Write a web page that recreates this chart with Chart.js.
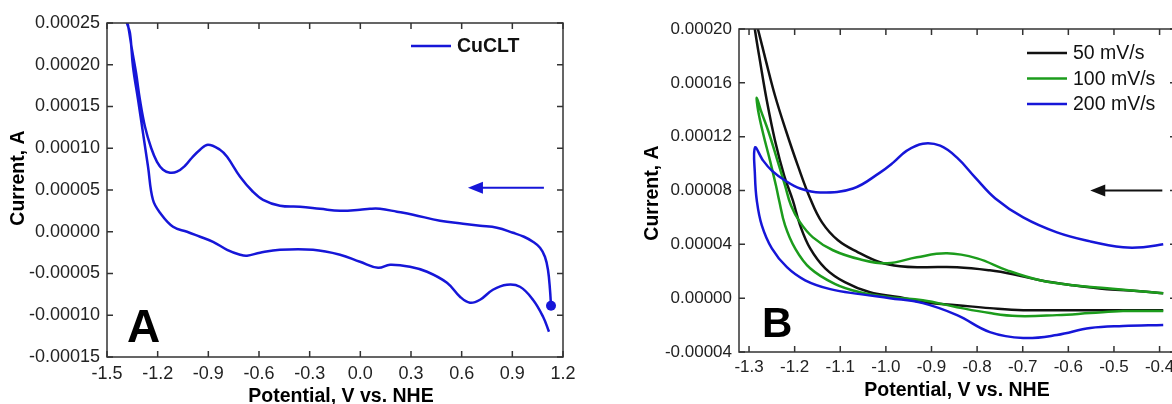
<!DOCTYPE html>
<html>
<head>
<meta charset="utf-8">
<script src="https://cdn.jsdelivr.net/npm/chart.js@4.4.1/dist/chart.umd.min.js"></script>
<style>
  html, body { margin: 0; padding: 0; background: #fff; overflow: hidden; width: 1172px; height: 404px; }
  canvas { position: absolute; top: 0; }
  #chartA { left: 0; }
  #chartB { left: 620px; }
</style>
</head>
<body>
<canvas id="chartA" width="600" height="404"></canvas>
<canvas id="chartB" width="600" height="404"></canvas>
<script>
// ---- panel A: CuCLT, potential (V vs NHE) and current (A)
const cuV = [1.129, 1.123, 1.111, 1.093, 1.064, 1.022, 0.969, 0.904, 0.809, 0.709, 0.608, 0.472, 0.312, 0.217, 0.116, 0.057, -0.002,
  -0.120, -0.239, -0.357, -0.476, -0.576, -0.636, -0.712, -0.789, -0.831, -0.902, -0.949, -0.997, -1.038, -1.086, -1.127, -1.168,
  -1.204, -1.239, -1.275, -1.305, -1.328, -1.352, -1.376, -1.382,
  -1.364, -1.346, -1.316, -1.287, -1.257, -1.228, -1.186, -1.109, -1.026, -0.949, -0.872, -0.789, -0.712, -0.671, -0.594,
  -0.476, -0.280, -0.120, -0.002, 0.105, 0.176, 0.294, 0.395, 0.513, 0.590, 0.649, 0.709, 0.785, 0.868, 0.945, 1.022, 1.082, 1.117];
const cuI = [-8.86e-5, -6.95e-5, -4.55e-5, -2.99e-5, -1.92e-5, -1.2e-5, -6.0e-6, -1.2e-6, 4.8e-6, 7.2e-6, 9.6e-6, 1.32e-5, 2.04e-5, 2.4e-5, 2.75e-5, 2.75e-5, 2.63e-5,
  2.51e-5, 2.75e-5, 2.99e-5, 3.11e-5, 3.83e-5, 4.79e-5, 6.59e-5, 8.98e-5, 9.82e-5, 1.042e-4, 9.82e-5, 8.86e-5, 7.9e-5, 7.19e-5, 7.07e-5, 7.43e-5,
  8.38e-5, 1.006e-4, 1.257e-4, 1.581e-4, 1.904e-4, 2.18e-4, 2.479e-4, 2.5e-4,
  2.38e-4, 1.976e-4, 1.581e-4, 1.186e-4, 7.78e-5, 3.83e-5, 2.28e-5, 6.0e-6, 0, -6.0e-6, -1.2e-5, -2.16e-5, -2.75e-5, -2.87e-5, -2.51e-5,
  -2.16e-5, -2.16e-5, -2.75e-5, -3.59e-5, -4.31e-5, -3.95e-5, -4.19e-5, -4.79e-5, -6.11e-5, -7.78e-5, -8.5e-5, -8.14e-5, -6.95e-5, -6.35e-5, -6.59e-5, -8.14e-5, -1.018e-4, -1.198e-4];
const cuStartV = [1.129];
const cuStartI = [-8.86e-5];
const arrowA = { fromV: 1.087, toV: 0.637, atI: 5.27e-5 };
const xTicksA = [-1.5, -1.2, -0.9, -0.6, -0.3, 0, 0.3, 0.6, 0.9, 1.2];
const yTicksA = [-0.00015, -0.0001, -0.00005, 0, 0.00005, 0.0001, 0.00015, 0.0002, 0.00025];

// ---- panel B: scan rates
const rateLabels = ['50 mV/s', '100 mV/s', '200 mV/s'];
const blackV = [-0.392, -0.443, -0.515, -0.590, -0.662, -0.721, -0.772, -0.844, -0.919, -0.969, -1.013, -1.061, -1.105, -1.140,
  -1.166, -1.193, -1.219, -1.243, -1.263, -1.280, -1.294,
  -1.287, -1.276, -1.261, -1.243, -1.223, -1.204, -1.188, -1.166, -1.133, -1.090, -1.035, -0.969, -0.919, -0.844, -0.772,
  -0.699, -0.552, -0.392];
const blackI = [3.7e-6, 5.2e-6, 6.7e-6, 9.6e-6, 1.33e-5, 1.78e-5, 2.07e-5, 2.3e-5, 2.3e-5, 2.37e-5, 2.67e-5, 3.41e-5, 4.3e-5, 5.63e-5,
  7.41e-5, 9.85e-5, 1.244e-4, 1.504e-4, 1.763e-4, 1.993e-4, 2.17e-4,
  1.993e-4, 1.763e-4, 1.467e-4, 1.17e-4, 9.11e-5, 7.26e-5, 5.41e-5, 3.7e-5, 2.22e-5, 1.19e-5, 4.4e-6, 7e-7, -3.0e-6, -5.2e-6, -7.4e-6,
  -8.9e-6, -8.9e-6, -8.9e-6];
const greenV = [-0.392, -0.443, -0.515, -0.590, -0.662, -0.734, -0.800, -0.866, -0.932, -0.997, -1.057, -1.116, -1.160, -1.188,
  -1.208, -1.221, -1.239, -1.258, -1.274, -1.283,
  -1.280, -1.269, -1.254, -1.241, -1.234, -1.221, -1.199, -1.166, -1.111, -1.057, -0.991, -0.919, -0.844, -0.772, -0.712,
  -0.625, -0.552, -0.480, -0.392];
const greenI = [3.7e-6, 5.2e-6, 7.4e-6, 9.6e-6, 1.33e-5, 2.07e-5, 2.96e-5, 3.33e-5, 3.04e-5, 2.59e-5, 2.89e-5, 3.56e-5, 4.52e-5, 5.63e-5,
  6.89e-5, 8.37e-5, 1.037e-4, 1.244e-4, 1.393e-4, 1.489e-4,
  1.393e-4, 1.222e-4, 1.022e-4, 8.37e-5, 7.26e-5, 5.41e-5, 3.7e-5, 2.22e-5, 1.04e-5, 4.4e-6, 7e-7, -1.5e-6, -6.7e-6, -1.11e-5, -1.33e-5,
  -1.26e-5, -1.11e-5, -9.6e-6, -9.6e-6];
const blueV = [-0.392, -0.436, -0.480, -0.552, -0.625, -0.699, -0.760, -0.804, -0.844, -0.881, -0.919, -0.954, -0.984, -1.013,
  -1.072, -1.144, -1.188, -1.221, -1.250, -1.269, -1.287,
  -1.287, -1.283, -1.272, -1.250, -1.217, -1.177, -1.122, -1.057, -0.991, -0.919, -0.844, -0.772, -0.699, -0.625,
  -0.552, -0.480, -0.392];
const blueI = [4.0e-5, 3.78e-5, 3.78e-5, 4.22e-5, 4.89e-5, 6.0e-5, 7.41e-5, 8.96e-5, 1.044e-4, 1.133e-4, 1.148e-4, 1.096e-4, 1.007e-4, 9.33e-5,
  8.15e-5, 7.85e-5, 8.15e-5, 8.74e-5, 9.48e-5, 1.022e-4, 1.119e-4,
  9.11e-5, 7.26e-5, 5.41e-5, 3.7e-5, 2.3e-5, 1.33e-5, 6.7e-6, 3.0e-6, 0, -3.7e-6, -1.26e-5, -2.52e-5, -2.96e-5, -2.74e-5,
  -2.22e-5, -2.07e-5, -2.0e-5];
const arrowB = { fromV: -0.394, toV: -0.552, atI: 8.0e-5 };
const xTicksB = [-1.3, -1.2, -1.1, -1.0, -0.9, -0.8, -0.7, -0.6, -0.5, -0.4];
const yTicksB = [-0.00004, 0, 0.00004, 0.00008, 0.00012, 0.00016, 0.0002];

const FONT = "'Liberation Sans', Arial, sans-serif";
const BLUE = '#1616d8';
const GREEN = '#1c9c1c';
const BLACK = '#111111';

function points(vs, is) {
    return vs.map((v, i) => ({ x: v, y: is[i] }));
}

function cvLine(vs, is, color, order) {
    return {
        data: points(vs, is),
        showLine: true,
        borderColor: color,
        backgroundColor: color,
        borderWidth: 2.5,
        pointRadius: 0,
        tension: 0.4,
        order: order
    };
}

function drawArrow(ctx, x0, x1, y, color) {
    ctx.strokeStyle = color;
    ctx.fillStyle = color;
    ctx.lineWidth = 2;
    ctx.beginPath();
    ctx.moveTo(x0, y);
    ctx.lineTo(x1 + 10, y);
    ctx.stroke();
    ctx.beginPath();
    ctx.moveTo(x1, y);
    ctx.lineTo(x1 + 15, y - 6);
    ctx.lineTo(x1 + 15, y + 6);
    ctx.closePath();
    ctx.fill();
}

// frame with inward ticks on all four sides, titles, legend, arrow, panel letter
function decorations(cfg) {
    return {
        id: 'deco',
        afterDatasetsDraw(chart) {
            const { ctx, chartArea: a, scales: { x, y } } = chart;
            ctx.save();
            ctx.strokeStyle = '#333';
            ctx.lineWidth = 1.5;
            ctx.strokeRect(a.left, a.top, a.right - a.left, a.bottom - a.top);
            ctx.beginPath();
            x.ticks.forEach(t => {
                const px = x.getPixelForValue(t.value);
                ctx.moveTo(px, a.bottom); ctx.lineTo(px, a.bottom - 6);
                ctx.moveTo(px, a.top); ctx.lineTo(px, a.top + 6);
            });
            y.ticks.forEach(t => {
                const py = y.getPixelForValue(t.value);
                ctx.moveTo(a.left, py); ctx.lineTo(a.left + 6, py);
                ctx.moveTo(a.right, py); ctx.lineTo(a.right - 6, py);
            });
            ctx.stroke();
            ctx.restore();
        },
        afterDraw(chart) {
            const { ctx, scales: { x, y } } = chart;
            ctx.save();
            ctx.fillStyle = '#000';
            ctx.font = `bold 19.5px ${FONT}`;
            ctx.textAlign = 'center';
            ctx.textBaseline = 'alphabetic';
            ctx.fillText('Potential, V vs. NHE', cfg.xTitle[0], cfg.xTitle[1]);
            ctx.save();
            ctx.translate(cfg.yTitle[0], cfg.yTitle[1]);
            ctx.rotate(-Math.PI / 2);
            ctx.fillText('Current, A', 0, 0);
            ctx.restore();

            ctx.font = `bold ${cfg.letterSize}px ${FONT}`;
            ctx.textAlign = 'left';
            ctx.fillText(cfg.letter, cfg.letterPos[0], cfg.letterPos[1]);

            cfg.legend.forEach((item, i) => {
                const ly = cfg.legendY + i * 25.5;
                ctx.strokeStyle = item.color;
                ctx.lineWidth = 2.5;
                ctx.beginPath();
                ctx.moveTo(cfg.legendX, ly);
                ctx.lineTo(cfg.legendX + 40, ly);
                ctx.stroke();
                ctx.fillStyle = '#111';
                ctx.font = `${cfg.legendBold ? 'bold ' : ''}19.5px ${FONT}`;
                ctx.textBaseline = 'middle';
                ctx.fillText(item.text, cfg.legendX + 46, ly + 1);
            });

            const arr = cfg.arrow;
            drawArrow(ctx, x.getPixelForValue(arr.fromV), x.getPixelForValue(arr.toV), y.getPixelForValue(arr.atI), cfg.arrowColor);
            ctx.restore();
        }
    };
}

function axisOptions(min, max, tickList, digits, fontSize, pad, fitSize, horizontal) {
    return {
        type: 'linear',
        min: min,
        max: max,
        afterBuildTicks: s => { s.ticks = tickList.map(v => ({ value: v })); },
        afterFit: s => { if (horizontal) s.height = fitSize; else s.width = fitSize; },
        grid: { display: false, drawTicks: false },
        border: { display: false },
        ticks: {
            color: '#222',
            padding: pad,
            autoSkip: false,
            maxRotation: 0,
            font: { family: FONT, size: fontSize },
            callback: v => Number(v).toFixed(digits)
        }
    };
}

new Chart(document.getElementById('chartA'), {
    type: 'scatter',
    data: {
        datasets: [
            cvLine(cuV, cuI, BLUE, 2),
            { data: points(cuStartV, cuStartI), pointRadius: 5, backgroundColor: BLUE, borderWidth: 0, showLine: false, order: 1 }
        ]
    },
    options: {
        responsive: false,
        animation: false,
        devicePixelRatio: 1,
        layout: { padding: { left: 0, top: 23, right: 37, bottom: 0 } },
        plugins: { legend: { display: false }, tooltip: { enabled: false } },
        scales: {
            x: axisOptions(-1.5, 1.2, xTicksA, 1, 18, 6, 47, true),
            y: axisOptions(-0.00015, 0.00025, yTicksA, 5, 18, 7, 107, false)
        }
    },
    plugins: [decorations({
        xTitle: [341, 402], yTitle: [24, 178],
        letter: 'A', letterSize: 46, letterPos: [127, 342],
        legend: [{ text: 'CuCLT', color: BLUE }], legendX: 411, legendY: 46, legendBold: true,
        arrow: arrowA, arrowColor: BLUE
    })]
});

new Chart(document.getElementById('chartB'), {
    type: 'scatter',
    data: {
        datasets: [
            cvLine(blackV, blackI, BLACK, 3),
            cvLine(greenV, greenI, GREEN, 2),
            cvLine(blueV, blueI, BLUE, 1)
        ]
    },
    options: {
        responsive: false,
        animation: false,
        devicePixelRatio: 1,
        layout: { padding: { left: 0, top: 29, right: 44, bottom: 0 } },
        plugins: { legend: { display: false }, tooltip: { enabled: false } },
        scales: {
            x: axisOptions(-1.322, -0.364, xTicksB, 1, 17, 5, 52, true),
            y: axisOptions(-0.00004, 0.0002, yTicksB, 5, 17, 7, 119, false)
        }
    },
    plugins: [decorations({
        xTitle: [337, 396], yTitle: [38, 193],
        letter: 'B', letterSize: 42, letterPos: [142, 337],
        legend: rateLabels.map((t, i) => ({ text: t, color: [BLACK, GREEN, BLUE][i] })),
        legendX: 407, legendY: 53, legendBold: false,
        arrow: arrowB, arrowColor: BLACK
    })]
});
</script>
</body>
</html>
